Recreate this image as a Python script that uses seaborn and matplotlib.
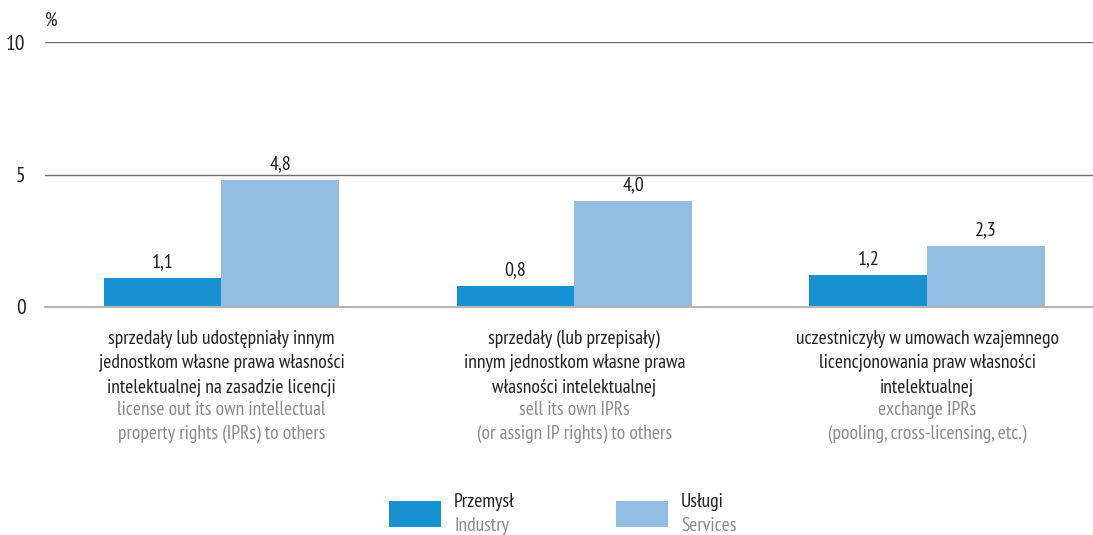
import matplotlib
matplotlib.use("Agg")
import matplotlib.pyplot as plt
import matplotlib.transforms as mtransforms
from matplotlib import font_manager
import seaborn as sns
import pandas as pd

categories_pl = [
    "sprzedały lub udostępniały innym\njednostkom własne prawa własności\nintelektualnej na zasadzie licencji",
    "sprzedały (lub przepisały)\ninnym jednostkom własne prawa\nwłasności intelektualnej",
    "uczestniczyły w umowach wzajemnego\nlicencjonowania praw własności\nintelektualnej",
]
categories_en = [
    "license out its own intellectual\nproperty rights (IPRs) to others",
    "sell its own IPRs\n(or assign IP rights) to others",
    "exchange IPRs\n(pooling, cross-licensing, etc.)",
]
series_pl = ["Przemysł", "Usługi"]
series_en = ["Industry", "Services"]
industry = [1.1, 0.8, 1.2]
services = [4.8, 4.0, 2.3]
yticks = [0, 5, 10]

names = {f.name for f in font_manager.fontManager.ttflist}
family = next((n for n in ["PT Sans Narrow", "Fira Sans Condensed", "Roboto Condensed"]
               if n in names), "DejaVu Sans")

sns.set_style("white")
plt.rcParams["font.family"] = [family, "DejaVu Sans"]

DARK = "#231f20"
GREY = "#8a8a8a"
colors = ["#1791d2", "#93bde3"]
FS = 14

df = pd.DataFrame({
    "cat": list(range(3)) * 2,
    "series": [series_pl[0]] * 3 + [series_pl[1]] * 3,
    "value": industry + services,
})

fig = plt.figure(figsize=(10.93, 5.35), dpi=100)
ax = fig.add_axes([45 / 1093, 1 - 307 / 535, (1093 - 45) / 1093, (307 - 42) / 535])

sns.barplot(data=df, x="cat", y="value", hue="series", palette=colors,
            width=0.667, gap=0, dodge=True, legend=False, ax=ax,
            saturation=1, linewidth=0, errorbar=None)

ax.set_xlim(-0.5, 2.47)
ax.set_ylim(0, 10)
ax.set_yticks(yticks)
ax.set_yticklabels([str(t) for t in yticks], fontsize=15.5, color=DARK)
ax.tick_params(axis="y", length=0, pad=14)
ax.set_xticks([])
ax.set_xlabel("")
ax.set_ylabel("")
for s in ax.spines.values():
    s.set_visible(False)
for y in yticks[1:]:
    ax.axhline(y, color="#6d6e70", linewidth=1.0, zorder=0)
ax.axhline(0, color="#b5b5b5", linewidth=1.5, zorder=3, clip_on=False)

for cont in ax.containers:
    labels = [f"{v:.1f}".replace(".", ",") for v in cont.datavalues]
    ax.bar_label(cont, labels=labels, padding=5, fontsize=FS + 0.5, color=DARK)

ax.text(0, 1.045, "%", transform=ax.transAxes, fontsize=FS, color=DARK,
        ha="left", va="bottom")

trans = mtransforms.blended_transform_factory(ax.transData, fig.transFigure)
for i in range(3):
    ax.text(i, 1 - 330 / 535, categories_pl[i], transform=trans, ha="center",
            va="top", fontsize=FS, color=DARK, linespacing=1.42)
    ax.text(i, 1 - 401 / 535, categories_en[i], transform=trans, ha="center",
            va="top", fontsize=FS, color=GREY, linespacing=1.42)

# legend
for (x0, c, pl, en) in [(389, colors[0], series_pl[0], series_en[0]),
                        (616, colors[1], series_pl[1], series_en[1])]:
    fig.patches.append(plt.Rectangle((x0 / 1093, 1 - 527 / 535), 52 / 1093, 26 / 535,
                                     transform=fig.transFigure, color=c, lw=0))
    fig.text((x0 + 65) / 1093, 1 - 502 / 535, pl, fontsize=FS, color=DARK,
             ha="left", va="center")
    fig.text((x0 + 65) / 1093, 1 - 526 / 535, en, fontsize=FS, color=GREY,
             ha="left", va="center")

fig.savefig("out.png", dpi=100)
